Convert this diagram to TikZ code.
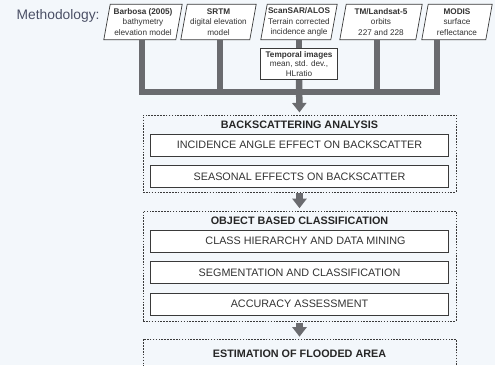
\documentclass[tikz,border=0pt]{standalone}
\usepackage{fontspec}
\setmainfont{Liberation Sans}
\usetikzlibrary{arrows.meta}
\pgfdeclarelayer{background}
\pgfsetlayers{background,main}
\definecolor{bgc}{HTML}{F3F7FB}
\definecolor{pipec}{HTML}{6A6B6F}
\definecolor{edgec}{HTML}{3A3A3A}
\definecolor{txtc}{HTML}{333333}
\definecolor{methc}{HTML}{4B5066}
\tikzset{
  para/.style={minimum height=35pt, inner sep=0pt, align=center, text=txtc,
    font=\fontsize{8.2}{10.2}\selectfont},
  paraedge/.style={draw=edgec, fill=white, line width=0.7pt, line join=miter},
  pipe/.style={draw=pipec, line width=6.5pt, line join=miter},
  arr/.style={pipe, -{Triangle[width=14pt,length=9.5pt]}},
  dbox/.style={draw=edgec, dashed, dash pattern=on 1.6pt off 1.3pt, line width=0.6pt,
    minimum width=313pt, inner sep=0pt},
  ibox/.style={draw=edgec, fill=white, line width=0.8pt, minimum width=297.6pt,
    minimum height=22pt, inner sep=0pt, text=txtc, font=\fontsize{10.8}{12}\selectfont},
  ttl/.style={text=black!85, font=\fontsize{10.8}{12}\selectfont\bfseries, inner sep=0pt},
}
\newcommand{\paraframe}[1]{%
  \path[paraedge] ([xshift=-3.2pt]#1.south west) -- ([xshift=3.2pt]#1.north west)
    -- ([xshift=3.2pt]#1.north east) -- ([xshift=-3.2pt]#1.south east) -- cycle;}
\begin{document}
\begin{tikzpicture}[x=1pt,y=-1pt]
\useasboundingbox (0,0) rectangle (495,365);
\clip (0,0) rectangle (495,365);

\node[anchor=base west, text=methc, font=\fontsize{13.8}{16}\selectfont, inner sep=0pt] (meth) at (16.5,19.5) {Methodology:};

\node[para, minimum width=71.6pt] (barb) at (143,22) {\textbf{Barbosa (2005)}\\bathymetry\\elevation model};
\node[para, minimum width=68.6pt] (srtm) at (218.5,22) {\textbf{SRTM}\\digital elevation\\model};
\node[para, minimum width=69.6pt] (scan) at (299,22) {\textbf{ScanSAR/ALOS}\\Terrain corrected\\incidence angle};
\node[para, minimum width=75.6pt] (tm) at (381,22) {\textbf{TM/Landsat-5}\\orbits\\227 and 228};
\node[para, minimum width=63.6pt] (modis) at (457,22) {\textbf{MODIS}\\surface\\reflectance};

\node[draw=edgec, fill=white, line width=0.8pt, minimum width=76.6pt, minimum height=31pt,
  inner sep=0pt, align=center, text=txtc, font=\fontsize{8.2}{9.6}\selectfont] (temp) at (299,63.8)
  {\textbf{Temporal images}\\mean, std. dev.,\\HLratio};

\coordinate (j1) at (142,92);
\coordinate (j2) at (220,92);
\coordinate (j3) at (299,92);
\coordinate (j4) at (377,92);
\coordinate (j5) at (437,92);

% dashed boxes
\node[dbox, minimum height=77pt] (bsa) at (299.5,153.5) {};
\node[dbox, minimum height=110pt] (obc) at (299.5,266) {};
\node[dbox, minimum height=61pt] (est) at (299.5,369.5) {};

\node[ttl] (bsat) at (299.5,124.5) {BACKSCATTERING ANALYSIS};
\node[ibox] (ia) at (299.5,145.2) {INCIDENCE ANGLE EFFECT ON BACKSCATTER};
\node[ibox] (se) at (299.5,176.7) {SEASONAL EFFECTS ON BACKSCATTER};

\node[ttl] (obct) at (299.5,220.7) {OBJECT BASED CLASSIFICATION};
\node[ibox] (ch) at (299.5,240.9) {\hspace{12pt}CLASS HIERARCHY AND DATA MINING};
\node[ibox] (sc) at (299.5,272.5) {SEGMENTATION AND CLASSIFICATION};
\node[ibox] (aa) at (299.5,303.9) {ACCURACY ASSESSMENT};

\node[ttl] (estt) at (299.5,353.3) {ESTIMATION OF FLOODED AREA};

\begin{pgfonlayer}{background}
\fill[bgc] (0,0) rectangle (495,365);
\paraframe{barb}
\paraframe{srtm}
\paraframe{scan}
\paraframe{tm}
\paraframe{modis}
\end{pgfonlayer}

% pipes
\draw[pipe, shorten <=0.4pt, shorten >=0.4pt] (barb.south -| j1) -- (j1) -- (j5) -- (modis.south -| j5);
\draw[pipe, shorten <=0.4pt] (srtm.south -| j2) -- (j2);
\draw[pipe, shorten <=0.4pt] (tm.south -| j4) -- (j4);
\draw[pipe, shorten <=0.4pt, shorten >=0.4pt] (scan.south) -- (temp.north);
\draw[arr, shorten <=0.4pt, shorten >=2.3pt] (temp.south) -- (bsa.north);
\draw[arr, shorten <=1pt, shorten >=2.5pt] (bsa.south) -- (obc.north);
\draw[arr, shorten <=1.5pt, shorten >=2pt] (obc.south) -- (est.north);
\end{tikzpicture}
\end{document}
